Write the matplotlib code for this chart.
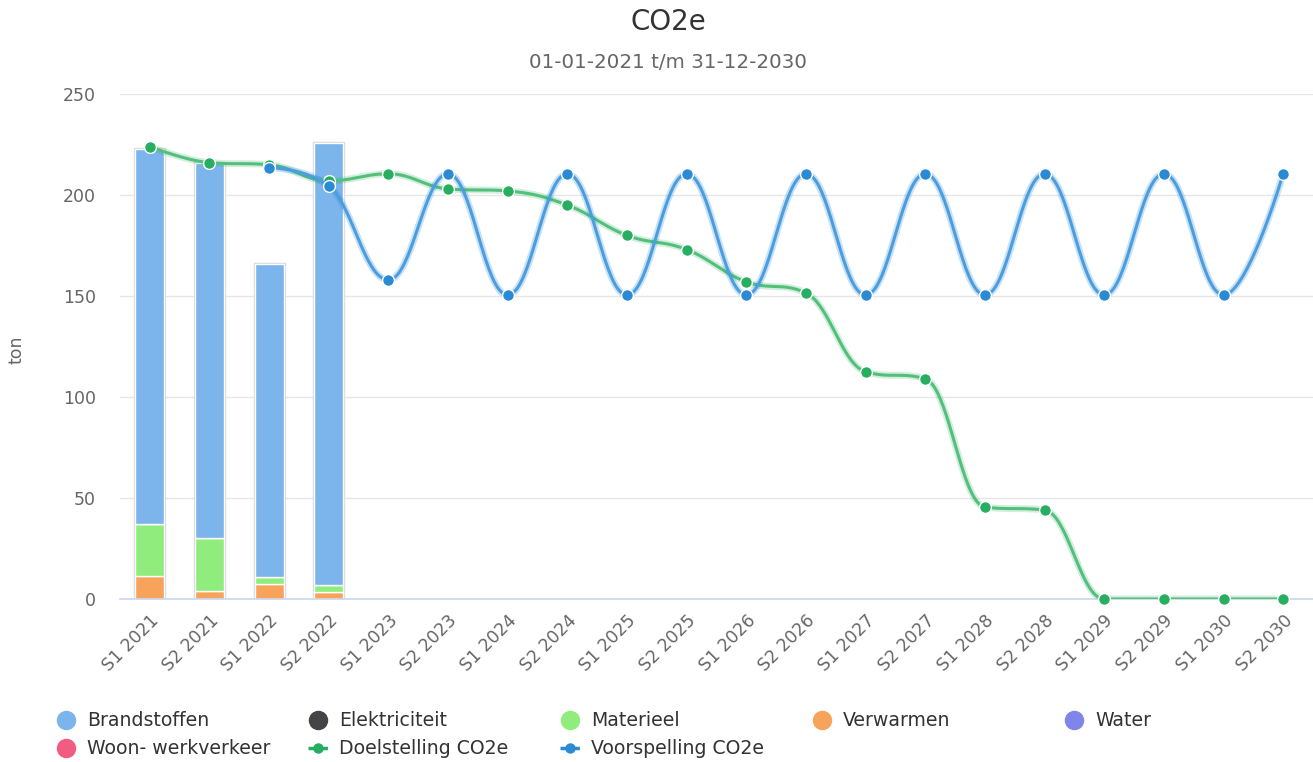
import numpy as np
import matplotlib.pyplot as plt
from matplotlib.lines import Line2D
from matplotlib.patches import Rectangle

categories = ["S1 2021", "S2 2021", "S1 2022", "S2 2022", "S1 2023", "S2 2023",
              "S1 2024", "S2 2024", "S1 2025", "S2 2025", "S1 2026", "S2 2026",
              "S1 2027", "S2 2027", "S1 2028", "S2 2028", "S1 2029", "S2 2029",
              "S1 2030", "S2 2030"]

# stacked columns (only the first four half-years have actuals)
brandstoffen = [186.0, 185.7, 155.0, 219.0]
elektriciteit = [0, 0, 0, 0]
materieel = [25.5, 26.0, 3.3, 3.5]
verwarmen = [11.5, 4.0, 7.4, 3.3]
water = [0, 0, 0, 0]
woon_werk = [0, 0, 0, 0]

doelstelling = [224, 216, 215, 207, 210.5, 203, 202, 195, 180, 173, 157, 151.5,
                112.5, 109, 45.5, 44, 0, 0, 0, 0]
voorspelling_start = 2
voorspelling = [213.5, 204.5, 158, 210.5, 150.5, 210.5, 150.5, 210.5, 150.5,
                210.5, 150.5, 210.5, 150.5, 210.5, 150.5, 210.5, 150.5, 210.5]

C_BRAND = "#7cb5ec"
C_ELEK = "#434348"
C_MAT = "#90ed7d"
C_VERW = "#f7a35c"
C_WATER = "#8085e9"
C_WOON = "#f15c80"
C_DOEL = "#27ae60"
C_VOOR = "#2a8ad4"


def hc_spline(xs, ys, steps=40):
    # highcharts-style spline (smoothing 1.5) through the points
    xs = np.asarray(xs, float)
    ys = np.asarray(ys, float)
    n = len(xs)
    lx, ly = xs.copy(), ys.copy()
    rx, ry = xs.copy(), ys.copy()
    for i in range(1, n - 1):
        x, y = xs[i], ys[i]
        px, py, nx, ny = xs[i - 1], ys[i - 1], xs[i + 1], ys[i + 1]
        lcx = (1.5 * x + px) / 2.5
        lcy = (1.5 * y + py) / 2.5
        rcx = (1.5 * x + nx) / 2.5
        rcy = (1.5 * y + ny) / 2.5
        if rcx != lcx:
            corr = (rcy - lcy) * (rcx - x) / (rcx - lcx) + y - rcy
            lcy += corr
            rcy += corr
        if lcy > py and lcy > y:
            lcy = max(py, y)
            rcy = 2 * y - lcy
        elif lcy < py and lcy < y:
            lcy = min(py, y)
            rcy = 2 * y - lcy
        if rcy > ny and rcy > y:
            rcy = max(ny, y)
            lcy = 2 * y - rcy
        elif rcy < ny and rcy < y:
            rcy = min(ny, y)
            lcy = 2 * y - rcy
        lx[i], ly[i], rx[i], ry[i] = lcx, lcy, rcx, rcy
    t = np.linspace(0, 1, steps)
    outx, outy = [], []
    for i in range(1, n):
        p0 = (xs[i - 1], ys[i - 1])
        p1 = (rx[i - 1], ry[i - 1])
        p2 = (lx[i], ly[i])
        p3 = (xs[i], ys[i])
        a = (1 - t) ** 3
        b = 3 * (1 - t) ** 2 * t
        c = 3 * (1 - t) * t ** 2
        d = t ** 3
        outx.extend(a * p0[0] + b * p1[0] + c * p2[0] + d * p3[0])
        outy.extend(a * p0[1] + b * p1[1] + c * p2[1] + d * p3[1])
    return np.array(outx), np.array(outy)


fig = plt.figure(figsize=(13.13, 7.62), dpi=100)
ax = fig.add_axes([120 / 1313, 163 / 762, 1193 / 1313, 505 / 762])

x = np.arange(len(categories))
xb = x[:len(brandstoffen)]
w = 0.49

# stack bottom to top (last series lowest, like highcharts)
stack = [(woon_werk, C_WOON), (water, C_WATER), (verwarmen, C_VERW),
         (materieel, C_MAT), (elektriciteit, C_ELEK), (brandstoffen, C_BRAND)]
bottom = np.zeros(len(xb))
for vals, col in stack:
    vals = np.asarray(vals, float)
    ax.bar(xb, vals, w, bottom=bottom, color=col, edgecolor="white",
           linewidth=1.0, zorder=2)
    bottom += vals
for xi, tot in zip(xb, bottom):
    ax.add_patch(Rectangle((xi - w / 2 - 0.015, 0), w + 0.03, tot + 0.5,
                           fill=False, edgecolor="#d8d8d8", linewidth=1.0,
                           zorder=1.9))

# doelstelling spline
sx, sy = hc_spline(x, doelstelling)
ax.plot(sx, sy, color=C_DOEL, lw=5, alpha=0.2, zorder=3, solid_capstyle="round")
ax.plot(sx, sy, color="#52c07a", lw=2.2, zorder=3.1, solid_capstyle="round")
ax.plot(x, doelstelling, "o", ms=8.5, color=C_DOEL, mec="white", mew=1.0,
        zorder=3.2, clip_on=False)

# voorspelling spline
xv = x[voorspelling_start:]
vx, vy = hc_spline(xv, voorspelling)
ax.plot(vx, vy, color=C_VOOR, lw=5, alpha=0.25, zorder=4, solid_capstyle="round")
ax.plot(vx, vy, color="#4a9ee0", lw=2.2, zorder=4.1, solid_capstyle="round")
ax.plot(xv, voorspelling, "o", ms=8.5, color=C_VOOR, mec="white", mew=1.0,
        zorder=4.2, clip_on=False)

ax.set_xlim(-0.5, len(categories) - 0.5)
ax.set_ylim(0, 250)
ax.set_yticks([0, 50, 100, 150, 200, 250])
ax.set_xticks(x)
ax.set_xticklabels(categories, rotation=45, ha="right", rotation_mode="anchor")
ax.tick_params(axis="x", length=0, pad=9, labelsize=12.5, colors="#666666")
ax.tick_params(axis="y", length=0, pad=17.5, labelsize=12.5, colors="#666666")
ax.grid(axis="y", color="#e6e6e6", linewidth=1, zorder=0)
ax.set_axisbelow(True)
for s in ["top", "right", "left"]:
    ax.spines[s].set_visible(False)
ax.spines["bottom"].set_color("#ccd6eb")
ax.spines["bottom"].set_linewidth(1.2)
ax.spines["bottom"].set_zorder(2.5)

fig.text(17 / 1313, 1 - 350 / 762, "ton", rotation=90, ha="center",
         va="center", fontsize=12.5, color="#666666")
fig.text(0.509, 1 - 22 / 762, "CO2e", ha="center", va="center",
         fontsize=20, color="#333333")
fig.text(0.509, 1 - 62 / 762, "01-01-2021 t/m 31-12-2030", ha="center",
         va="center", fontsize=14.3, color="#666666")

# legend
legend_items = [("Brandstoffen", C_BRAND, "dot"), ("Elektriciteit", C_ELEK, "dot"),
                ("Materieel", C_MAT, "dot"), ("Verwarmen", C_VERW, "dot"),
                ("Water", C_WATER, "dot"), ("Woon- werkverkeer", C_WOON, "dot"),
                ("Doelstelling CO2e", C_DOEL, "line"),
                ("Voorspelling CO2e", C_VOOR, "line")]
for k, (label, col, kind) in enumerate(legend_items):
    row, colno = divmod(k, 5)
    mx = 66 + 252 * colno
    my = 720 + 28 * row
    fx, fy = mx / 1313, 1 - my / 762
    if kind == "dot":
        fig.add_artist(Line2D([fx], [fy], marker="o", ms=13, color=col,
                              mec=col, transform=fig.transFigure))
    else:
        fig.add_artist(Line2D([(mx - 10) / 1313, (mx + 10) / 1313], [fy, fy],
                              color=col, lw=2.5, ls=(0, (2.2, 1.2)),
                              transform=fig.transFigure))
        fig.add_artist(Line2D([fx], [fy], marker="o", ms=6.5, color=col,
                              mec=col, transform=fig.transFigure))
    fig.text((mx + 21) / 1313, fy, label, ha="left", va="center",
             fontsize=13.6, color="#333333")

fig.savefig("out.png", dpi=100)
